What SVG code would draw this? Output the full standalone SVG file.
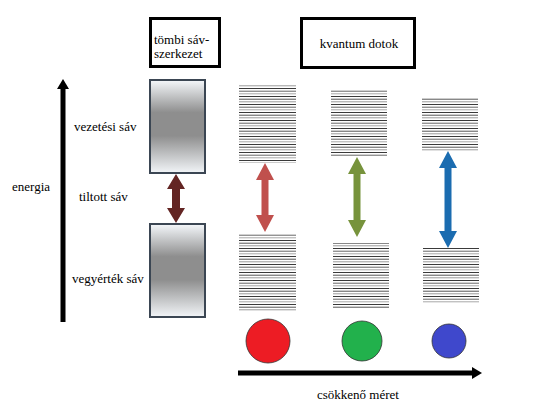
<svg xmlns="http://www.w3.org/2000/svg" width="553" height="415" viewBox="0 0 553 415">
<style>
text{font-family:"Liberation Serif",serif;font-size:13px;fill:#000}
.title{fill:#fff;stroke:#000;stroke-width:3}
.bulk{fill:url(#bandGrad);stroke:#3b4653;stroke-width:2}
.levels{fill:url(#lines)}
.dot{stroke:#333;stroke-width:0.8}
</style>
<defs>
<linearGradient id="bandGrad" x1="0" y1="0" x2="0" y2="1">
<stop offset="0" stop-color="#f5f8fb"/>
<stop offset="0.35" stop-color="#8e8e8e"/>
<stop offset="0.6" stop-color="#8e8e8e"/>
<stop offset="1" stop-color="#f2f5f8"/>
</linearGradient>
<pattern id="lines" patternUnits="userSpaceOnUse" x="0" y="0" width="60" height="16">
<rect x="0" y="0" width="60" height="1" fill="#3a3a3a"/>
<rect x="0" y="2.7" width="60" height="1" fill="#555"/>
<rect x="0" y="5.3" width="60" height="1" fill="#9a9a9a"/>
<rect x="0" y="8" width="60" height="1" fill="#3a3a3a"/>
<rect x="0" y="10.7" width="60" height="1" fill="#666"/>
<rect x="0" y="13.3" width="60" height="1" fill="#a8a8a8"/>
</pattern>
</defs>

<g id="title-bulk">
<rect class="title" x="150.5" y="18.5" width="69" height="48"/>
<text x="154" y="44">tömbi sáv-</text>
<text x="154" y="58">szerkezet</text>
</g>
<g id="title-qd">
<rect class="title" x="301.5" y="18.5" width="113" height="49"/>
<text x="359" y="48" text-anchor="middle">kvantum dotok</text>
</g>

<g id="labels">
<text x="12" y="191">energia</text>
<text x="74" y="131">vezetési sáv</text>
<text x="79" y="201">tiltott sáv</text>
<text x="72" y="283">vegyérték sáv</text>
<text x="358" y="399" text-anchor="middle">csökkenő méret</text>
</g>

<g id="bulk-conduction"><rect class="bulk" x="150" y="80" width="55" height="93"/></g>
<g id="bulk-valence"><rect class="bulk" x="150" y="224" width="55" height="93"/></g>

<g id="qd1-top"><rect class="levels" x="239" y="84" width="57" height="79"/></g>
<g id="qd1-bottom"><rect class="levels" x="239" y="233" width="57" height="78"/></g>
<g id="qd2-top"><rect class="levels" x="331" y="90" width="56" height="67"/></g>
<g id="qd2-bottom"><rect class="levels" x="333" y="243" width="56" height="66"/></g>
<g id="qd3-top"><rect class="levels" x="422" y="97" width="56" height="55"/></g>
<g id="qd3-bottom"><rect class="levels" x="423" y="248" width="56" height="55"/></g>

<g id="dot-red"><circle class="dot" cx="268" cy="341" r="22" fill="#ed1c24"/></g>
<g id="dot-green"><circle class="dot" cx="362" cy="341" r="20" fill="#22b14c"/></g>
<g id="dot-blue"><circle class="dot" cx="449" cy="341" r="17" fill="#3f48cc"/></g>

<g id="connectors">
<line x1="63" y1="322" x2="63" y2="88" stroke="#000" stroke-width="5"/>
<polygon points="63,79 69,89 57,89" fill="#000"/>
<line x1="238" y1="373" x2="473" y2="373" stroke="#000" stroke-width="5"/>
<polygon points="482,373 472,367 472,379" fill="#000"/>
<polygon fill="#632523" points="176,174 185,189 180,189 180,208 185,208 176,223 167,208 172,208 172,189 167,189"/>
<polygon fill="#c0504d" points="265,163 274,180 268.5,180 268.5,215 274,215 265,232 256,215 261.5,215 261.5,180 256,180"/>
<polygon fill="#77933c" points="357,157 366,174 360.5,174 360.5,220 366,220 357,237 348,220 353.5,220 353.5,174 348,174"/>
<polygon fill="#1b6cb0" points="448,151 457,168 451.5,168 451.5,231 457,231 448,248 439,231 444.5,231 444.5,168 439,168"/>
</g>
</svg>
